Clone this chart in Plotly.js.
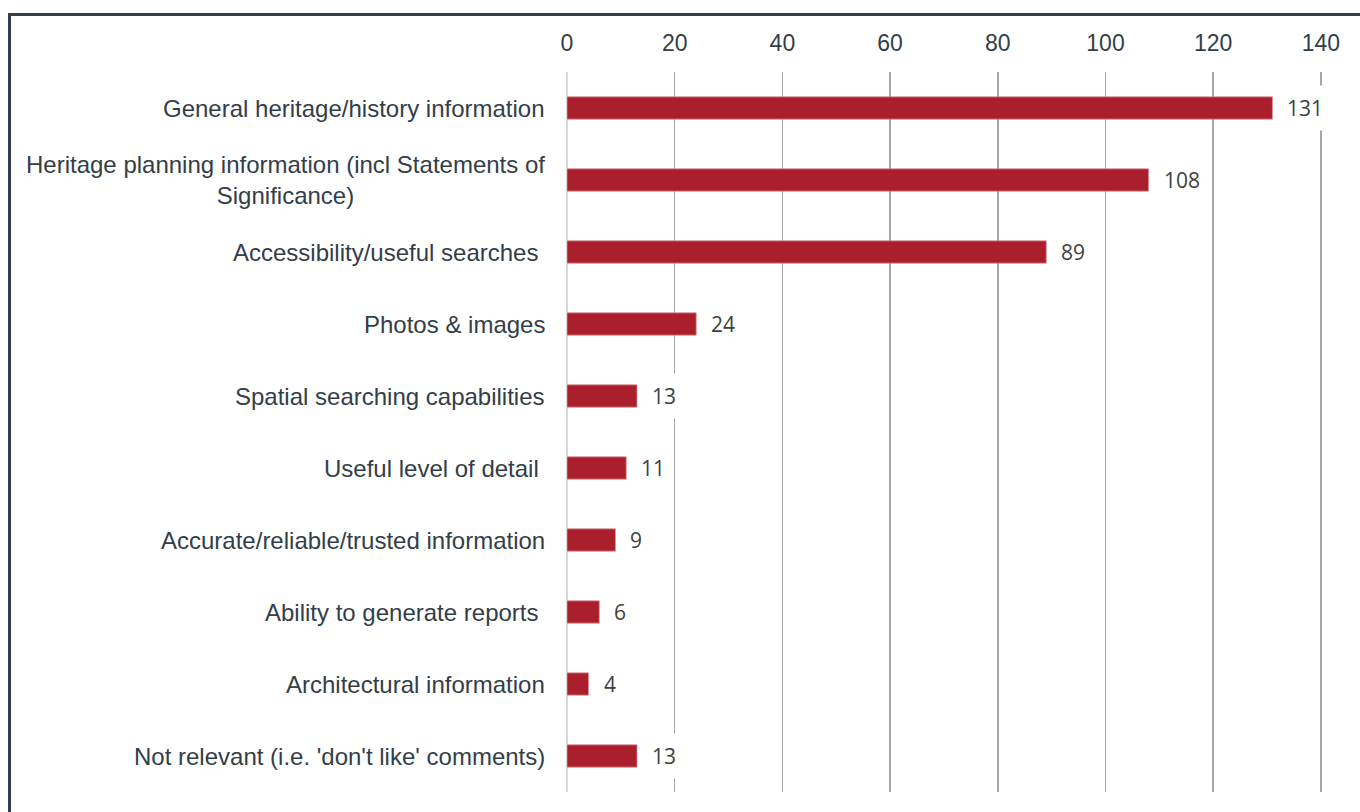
<!DOCTYPE html>
<html>
<head>
<meta charset="utf-8">
<script src="https://cdn.plot.ly/plotly-3.0.1.min.js"></script>
<style>
html,body{margin:0;padding:0;background:#fff;}
#wrap{position:relative;width:1360px;height:812px;overflow:hidden;}
#chart{position:absolute;left:0;top:0;width:1360px;height:812px;}
#frame{position:absolute;left:8px;top:13px;width:1400px;height:900px;border-left:3px solid #333e48;border-top:3px solid #333e48;pointer-events:none;}
</style>
</head>
<body>
<div id="wrap"><div id="chart"></div><div id="frame"></div></div>
<script>
const categories = [
  "General heritage/history information",
  "Heritage planning information (incl Statements of<br>Significance)",
  "Accessibility/useful searches ",
  "Photos & images",
  "Spatial searching capabilities",
  "Useful level of detail ",
  "Accurate/reliable/trusted information",
  "Ability to generate reports ",
  "Architectural information",
  "Not relevant (i.e. 'don't like' comments)"
];
const counts = [131, 108, 89, 24, 13, 11, 9, 6, 4, 13];
const xTicks = [0, 20, 40, 60, 80, 100, 120, 140];

const ids = categories.map((c, i) => "c" + i);
const FONT = "'Liberation Sans', Arial, sans-serif";

const trace = {
  type: "bar",
  orientation: "h",
  x: counts,
  y: ids,
  width: 0.31,
  marker: {color: "#ab1f2d", line: {color: "#d9939a", width: 0.8}},
  hoverinfo: "none"
};

const annotations = [];
categories.forEach((c, i) => {
  annotations.push({
    xref: "paper", yref: "y", x: 0, y: ids[i],
    xanchor: "right", yanchor: "middle", xshift: -20,
    text: c, showarrow: false, align: "center",
    font: {family: FONT, size: 24, color: "#333e48"}
  });
  annotations.push({
    xref: "x", yref: "y", x: counts[i], y: ids[i],
    xanchor: "left", yanchor: "middle", xshift: 6,
    text: String(counts[i]), showarrow: false,
    bgcolor: "#ffffff", borderpad: 8,
    font: {family: "'Open Sans', sans-serif", size: 21, color: "#404040"}
  });
});

const layout = {
  width: 1360, height: 812,
  margin: {l: 567, r: 38, t: 72, b: 20},
  paper_bgcolor: "rgba(0,0,0,0)",
  plot_bgcolor: "rgba(0,0,0,0)",
  showlegend: false,
  xaxis: {
    side: "top", range: [0, 140.2], tickvals: xTicks, ticktext: xTicks.map(String),
    showgrid: true, gridcolor: "#a6a6a6", gridwidth: 1.5,
    zeroline: true, zerolinecolor: "#d9d9d9", zerolinewidth: 2,
    showline: false, ticks: "", ticklabelstandoff: 15,
    tickfont: {family: FONT, size: 23, color: "#333e48"},
    fixedrange: true
  },
  yaxis: {
    type: "category", autorange: "reversed", showticklabels: false,
    showgrid: false, zeroline: false, showline: false, ticks: "",
    fixedrange: true
  },
  annotations: annotations
};

Plotly.newPlot("chart", [trace], layout, {displayModeBar: false, staticPlot: true});
</script>
</body>
</html>
